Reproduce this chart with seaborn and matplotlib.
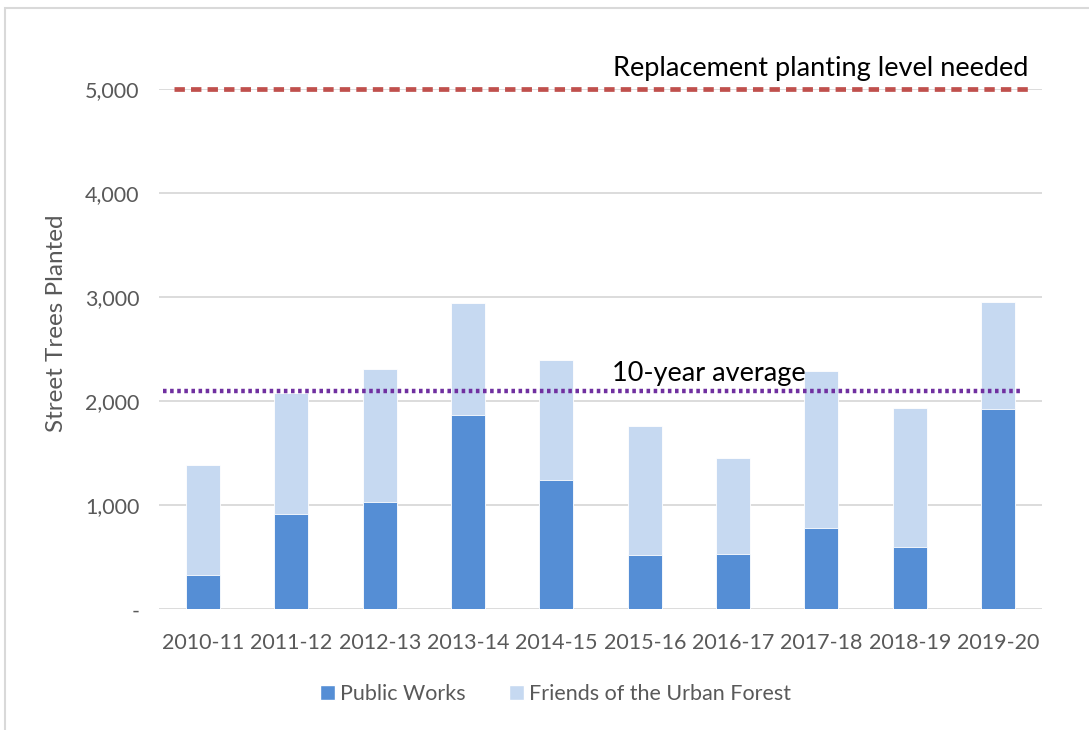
import pandas as pd
import seaborn as sns
import matplotlib.pyplot as plt
from matplotlib.patches import Patch, Rectangle

# data
years = ['2010-11', '2011-12', '2012-13', '2013-14', '2014-15',
         '2015-16', '2016-17', '2017-18', '2018-19', '2019-20']
public_works = [330, 920, 1030, 1865, 1240, 520, 535, 780, 600, 1925]
friends = [1060, 1160, 1275, 1080, 1160, 1240, 920, 1505, 1330, 1025]
replacement_level = 5000
ten_year_avg = 2100
y_ticks = [0, 1000, 2000, 3000, 4000, 5000]
y_tick_labels = ['-', '1,000', '2,000', '3,000', '4,000', '5,000']

df = pd.DataFrame({'year': years, 'public_works': public_works, 'friends': friends})
df['total'] = df['public_works'] + df['friends']

sns.set_style('white')
plt.rcParams['font.family'] = ['Lato', 'DejaVu Sans']

c_pw = '#558ED5'
c_fuf = '#C6D9F1'
grey = '#595959'

fig = plt.figure(figsize=(10.89, 7.30), dpi=100)
ax = fig.add_axes([0.146, 0.1654, 0.811, 0.7127])

# stacked bars: draw total first, then public works over it
sns.barplot(data=df, x='year', y='total', color=c_fuf, width=0.385, ax=ax, saturation=1)
sns.barplot(data=df, x='year', y='public_works', color=c_pw, width=0.385, ax=ax, saturation=1)
for p in ax.patches:
    p.set_edgecolor('white')
    p.set_linewidth(0.6)

ax.set_ylim(0, 5000)
ax.set_xlim(-0.5, 9.5)
ax.set_yticks(y_ticks)
ax.set_yticklabels(y_tick_labels)
ax.yaxis.grid(True, color='#D9D9D9', linewidth=1.3)
ax.set_axisbelow(True)
for s in ax.spines.values():
    s.set_visible(False)
ax.tick_params(axis='both', length=0, labelsize=15.5, colors=grey)
ax.tick_params(axis='y', pad=14)
ax.tick_params(axis='x', pad=17)
ax.set_xlabel('')
ax.set_ylabel('Street Trees Planted', fontsize=17.5, color=grey)
ax.yaxis.set_label_coords(-0.104, 0.55)

# reference lines
ax.axhline(replacement_level, xmin=0.017, xmax=0.984, color='#C0504D',
           linewidth=3.4, linestyle=(0, (2.2, 1.3)), clip_on=False, zorder=3)
ax.axhline(ten_year_avg, xmin=0.005, xmax=0.975, color='#7030A0',
           linewidth=3.2, linestyle=(0, (0.8, 0.8)), zorder=3)
ax.text(9.34, replacement_level + 80, 'Replacement planting level needed',
        ha='right', va='bottom', fontsize=19.5, color='black')
ax.text(4.63, ten_year_avg + 50, '10-year average',
        ha='left', va='bottom', fontsize=19.5, color='black')

handles = [Patch(facecolor=c_pw, label='Public Works'),
           Patch(facecolor=c_fuf, label='Friends of the Urban Forest')]
fig.legend(handles=handles, loc='center', bbox_to_anchor=(0.51, 0.049), ncol=2,
           frameon=False, fontsize=15.5, handlelength=0.7, handleheight=0.7,
           handletextpad=0.25, columnspacing=2.0, labelcolor=grey)

# light chart border
fig.patches.append(Rectangle((0.005, -0.02), 1.1, 1.009, transform=fig.transFigure,
                             fill=False, edgecolor='#D9D9D9', linewidth=1.5))

fig.savefig('out.png', dpi=100)
